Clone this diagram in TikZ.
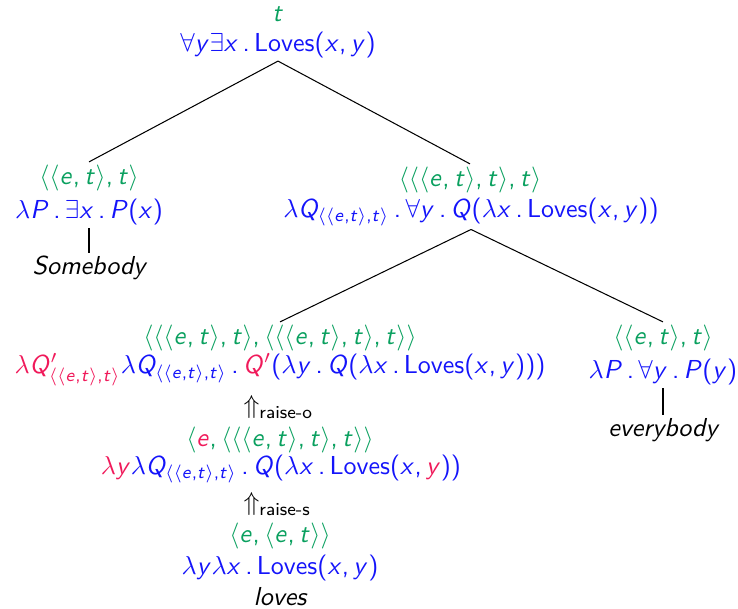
\documentclass[tikz,border=0pt]{standalone}
\renewcommand\familydefault{\sfdefault}
\DeclareSymbolFont{sfit}{OT1}{cmss}{m}{sl}
\DeclareSymbolFont{sfup}{OT1}{cmss}{m}{n}
\DeclareMathSymbol{e}{\mathalpha}{sfit}{`e}
\DeclareMathSymbol{t}{\mathalpha}{sfit}{`t}
\DeclareMathSymbol{x}{\mathalpha}{sfit}{`x}
\DeclareMathSymbol{y}{\mathalpha}{sfit}{`y}
\DeclareMathSymbol{P}{\mathalpha}{sfit}{`P}
\DeclareMathSymbol{Q}{\mathalpha}{sfit}{`Q}
\DeclareMathSymbol{(}{\mathopen}{sfup}{`(}
\DeclareMathSymbol{)}{\mathclose}{sfup}{`)}
\DeclareMathSymbol{,}{\mathpunct}{sfup}{`,}
\DeclareMathSymbol{.}{\mathord}{sfup}{`.}
\DeclareMathAlphabet{\mathsfup}{OT1}{cmss}{m}{n}
\definecolor{tgreen}{RGB}{10,160,95}
\definecolor{tblue}{RGB}{20,20,250}
\definecolor{tred}{RGB}{240,25,90}
\newcommand{\Lv}{\mathsfup{Loves}}
\newcommand{\tyA}{\langle\langle e,t\rangle,t\rangle}
\newcommand{\dt}{\,.\,}
\begin{document}
\begin{tikzpicture}[x=0.385pt,y=-0.385pt,
  every node/.style={inner sep=1pt},
  ty/.style={text=tgreen},
  fm/.style={text=tblue},
  wd/.style={text=black, font=\itshape},
  lab/.style={text=black, anchor=west, inner sep=0pt},
  edge/.style={draw=black, line width=0.4pt}]
\useasboundingbox (0,0) rectangle (738,608);
% root
\node[ty] (t0) at (278,14) {$t$};
\node[fm] (f0) at (278,45) {$\forall y\exists x\dt\Lv(x,y)$};
% left: Somebody
\node[ty] (t1) at (89,178) {$\tyA$};
\node[fm] (f1) at (89,212) {$\lambda P\dt\exists x\dt P(x)$};
\node[wd] (w1) at (89,268) {Somebody};
% right VP
\node[ty] (t2) at (470,180) {$\langle\langle\langle e,t\rangle,t\rangle,t\rangle$};
\node[fm] (f2) at (471,212) {$\lambda Q_{\tyA}\dt\forall y\dt Q(\lambda x\dt\Lv(x,y))$};
% raise-o node
\node[ty] (t3) at (280,338) {$\langle\langle\langle e,t\rangle,t\rangle,\langle\langle\langle e,t\rangle,t\rangle,t\rangle\rangle$};
\node[fm] (f3) at (280,370) {$\textcolor{tred}{\lambda Q'_{\tyA}}\lambda Q_{\tyA}\dt\textcolor{tred}{Q'}(\lambda y\dt Q(\lambda x\dt\Lv(x,y)))$};
\node[lab] (r1) at (243,407) {$\Uparrow$\raisebox{-0.45ex}{\scriptsize raise-o}};
\node[ty] (t4) at (280,440) {$\langle \textcolor{tred}{e},\langle\langle\langle e,t\rangle,t\rangle,t\rangle\rangle$};
\node[fm] (f4) at (281,469) {$\textcolor{tred}{\lambda y}\lambda Q_{\tyA}\dt Q(\lambda x\dt\Lv(x,\textcolor{tred}{y}))$};
\node[lab] (r2) at (243,504) {$\Uparrow$\raisebox{-0.45ex}{\scriptsize raise-s}};
\node[ty] (t5) at (280,536) {$\langle e,\langle e,t\rangle\rangle$};
\node[fm] (f5) at (280,568) {$\lambda y\lambda x\dt\Lv(x,y)$};
\node[wd] (w5) at (280,597) {loves};
% everybody
\node[ty] (t6) at (663,338) {$\tyA$};
\node[fm] (f6) at (663,372) {$\lambda P\dt\forall y\dt P(y)$};
\node[wd] (w6) at (663,430) {everybody};
% edges
\draw[edge] (f0.south) -- (t1.north);
\draw[edge] (f0.south) -- (t2.north);
\draw[edge] (f2.south) -- (t3.north);
\draw[edge] (f2.south) -- (t6.north);
\draw[edge] (f1.south) -- (w1.north);
\draw[edge] (f6.south) -- (w6.north);
\end{tikzpicture}
\end{document}
